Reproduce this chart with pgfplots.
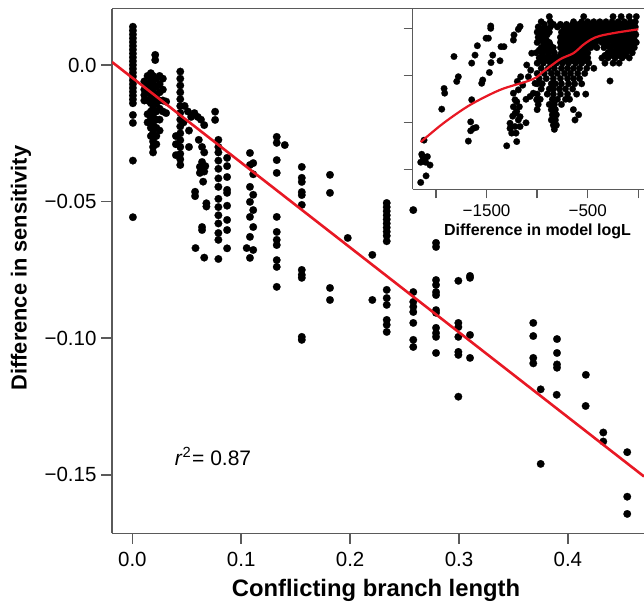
\documentclass[border=0pt]{standalone}
\usepackage{fontspec}
\setmainfont{Liberation Sans}
\usepackage{pgfplots}
\usepackage{pgfplotstable}
\pgfplotsset{compat=1.18}
\definecolor{spine}{RGB}{90,90,90}
\definecolor{fitred}{RGB}{232,24,36}

\pgfplotstableread{
X Y
0.0005 0.0140
0.0005 0.0126
0.0005 0.0112
0.0005 0.0098
0.0005 0.0084
0.0005 0.0070
0.0005 0.0056
0.0005 0.0042
0.0005 0.0028
0.0005 0.0014
0.0005 0.0000
0.0005 -0.0014
0.0005 -0.0028
0.0005 -0.0042
0.0005 -0.0056
0.0005 -0.0070
0.0005 -0.0084
0.0005 -0.0098
0.0005 -0.0112
0.0005 -0.0126
0.0005 -0.0140
0.0005 -0.0183
0.0005 -0.0212
0.0005 -0.0350
0.0005 -0.0557
0.021 0.0037
0.021 0.0018
0.011 -0.006
0.011 -0.009
0.011 -0.011
0.011 -0.013
0.014 -0.004
0.014 -0.007
0.014 -0.010
0.014 -0.013
0.014 -0.018
0.014 -0.021
0.017 -0.003
0.017 -0.005
0.017 -0.008
0.017 -0.011
0.017 -0.014
0.017 -0.017
0.017 -0.020
0.017 -0.023
0.017 -0.026
0.019 -0.004
0.019 -0.007
0.019 -0.010
0.019 -0.013
0.019 -0.016
0.019 -0.019
0.019 -0.022
0.019 -0.025
0.019 -0.028
0.019 -0.030
0.019 -0.032
0.022 -0.005
0.022 -0.008
0.022 -0.011
0.022 -0.014
0.022 -0.017
0.022 -0.020
0.022 -0.023
0.022 -0.026
0.022 -0.029
0.025 -0.004
0.025 -0.007
0.025 -0.010
0.025 -0.013
0.025 -0.016
0.025 -0.020
0.025 -0.024
0.028 -0.005
0.028 -0.009
0.028 -0.013
0.028 -0.017
0.031 -0.0134
0.031 -0.0176
0.044 -0.0024
0.044 -0.0050
0.044 -0.0075
0.044 -0.0100
0.044 -0.0125
0.044 -0.0150
0.044 -0.0175
0.044 -0.0200
0.044 -0.0225
0.044 -0.0250
0.044 -0.0275
0.044 -0.0300
0.044 -0.0325
0.044 -0.0345
0.044 -0.0366
0.040 -0.026
0.040 -0.029
0.040 -0.033
0.048 -0.015
0.051 -0.017
0.054 -0.019
0.052 -0.024
0.052 -0.030
0.047 -0.021
0.057 -0.0176
0.060 -0.019
0.063 -0.020
0.066 -0.022
0.061 -0.0274
0.064 -0.030
0.066 -0.032
0.064 -0.0355
0.067 -0.037
0.066 -0.039
0.062 -0.0373
0.062 -0.0395
0.065 -0.0427
0.0576 -0.0464
0.0576 -0.048
0.068 -0.0506
0.068 -0.0518
0.064 -0.0593
0.064 -0.0604
0.058 -0.067
0.066 -0.0705
0.076 -0.0171
0.076 -0.0201
0.079 -0.0274
0.079 -0.0300
0.079 -0.0320
0.079 -0.0350
0.079 -0.0380
0.079 -0.0415
0.079 -0.0446
0.079 -0.0490
0.079 -0.0520
0.079 -0.0550
0.079 -0.0580
0.079 -0.0615
0.079 -0.0640
0.079 -0.0710
0.087 -0.034
0.087 -0.037
0.087 -0.041
0.087 -0.0457
0.087 -0.0468
0.087 -0.0515
0.087 -0.0567
0.087 -0.0604
0.087 -0.0671
0.108 -0.0322
0.111 -0.0359
0.108 -0.0366
0.111 -0.0400
0.108 -0.0446
0.111 -0.0475
0.108 -0.0501
0.111 -0.0531
0.108 -0.0556
0.111 -0.0593
0.108 -0.0629
0.105 -0.0670
0.111 -0.0677
0.108 -0.0706
0.1326 -0.0263
0.1326 -0.0285
0.140 -0.0293
0.1326 -0.0348
0.1326 -0.0395
0.1326 -0.0556
0.1326 -0.0611
0.1326 -0.0640
0.1326 -0.0659
0.1326 -0.0714
0.1326 -0.0739
0.1326 -0.0812
0.1556 -0.0373
0.1556 -0.0413
0.1556 -0.0428
0.1556 -0.0465
0.1556 -0.0476
0.1556 -0.0512
0.1556 -0.0750
0.1556 -0.0768
0.1556 -0.0779
0.1556 -0.0995
0.1556 -0.1006
0.1815 -0.0402
0.1815 -0.0468
0.1815 -0.0816
0.1815 -0.0860
0.1978 -0.0633
0.2204 -0.0695
0.2204 -0.0860
0.2336 -0.0505
0.2336 -0.0520
0.2336 -0.0535
0.2336 -0.0550
0.2336 -0.0565
0.2336 -0.0580
0.2336 -0.0595
0.2336 -0.0610
0.2336 -0.0625
0.2336 -0.0645
0.2336 -0.0823
0.2336 -0.0853
0.2336 -0.0878
0.2336 -0.0933
0.2336 -0.0951
0.2336 -0.0977
0.258 -0.0531
0.258 -0.0831
0.258 -0.0867
0.258 -0.0885
0.258 -0.0904
0.258 -0.0944
0.258 -0.1006
0.258 -0.1032
0.2789 -0.0651
0.2789 -0.0666
0.2789 -0.0787
0.2789 -0.0805
0.2789 -0.0831
0.2789 -0.0842
0.2789 -0.0897
0.2789 -0.0907
0.2789 -0.0962
0.2789 -0.0981
0.2789 -0.0995
0.2789 -0.1054
0.2994 -0.0790
0.2994 -0.0944
0.2994 -0.0959
0.2994 -0.0995
0.2994 -0.1050
0.2994 -0.1061
0.2994 -0.1214
0.3101 -0.0772
0.3101 -0.0779
0.3101 -0.0988
0.3101 -0.1072
0.3682 -0.0944
0.3682 -0.0992
0.3682 -0.1072
0.3682 -0.1092
0.3750 -0.1187
0.3750 -0.1460
0.3900 -0.1003
0.3900 -0.1054
0.3900 -0.1096
0.3900 -0.1108
0.3897 -0.1207
0.4165 -0.1134
0.4163 -0.1248
0.4325 -0.1345
0.4325 -0.1378
0.4545 -0.1417
0.4545 -0.1580
0.4545 -0.1643
}\maindata

\pgfplotstableread{
X Y
-2151 -0.28
-2098 -0.14
-2141 0.32
-2118 0.21
-2085 0.27
-2059 0.09
-2151 0.15
-2102 0.15
-2131 0.27
-2118 0.62
-1943 1.28
-1920 1.72
-1914 1.62
-1822 2.40
-1795 1.87
-1779 1.97
-1680 0.60
-1657 1.01
-1657 0.82
-1647 1.48
-1647 2.26
-1631 0.87
-1614 2.43
-1604 0.89
-1591 2.63
-1548 1.83
-1538 1.90
-1505 2.79
-1482 2.79
-1472 2.06
-1459 3.05
-1459 3.00
-1456 2.27
-1439 2.43
-1367 2.31
-1357 2.61
-1328 2.61
-1301 0.50
-1202 0.59
-1186 2.98
-1169 3.04
-1229 2.86
-1235 2.75
-1110 0.99
-1268 0.87
-1252 0.77
-1268 0.98
-1242 1.13
-1219 1.19
-1235 1.33
-1202 1.44
-1219 1.48
-1186 1.05
-1202 1.23
-1169 1.12
-1176 1.33
-1235 1.62
-1186 1.69
-1196 1.87
-1163 1.97
-1209 0.77
-1219 0.91
-1169 0.91
-1143 1.79
-1103 2.22
-1087 1.97
-1110 1.49
-1070 1.55
-1054 2.47
-1021 1.83
-1005 1.48
-1038 1.62
-1064 2.11
-880 3.25
-540 3.25
-250 3.25
-170 3.25
-90 3.25
-20 3.25
-960 3.14
-870 3.14
-640 3.14
-560 3.14
-500 3.14
-440 3.14
-380 3.14
-320 3.14
-260 3.14
-200 3.14
-140 3.14
-80 3.14
-30 3.14
-990 3.03
-930 3.03
-870 3.03
-800 3.03
-740 3.03
-680 3.03
-620 3.03
-560 3.03
-500 3.03
-440 3.03
-380 3.03
-320 3.03
-260 3.03
-200 3.03
-140 3.03
-80 3.03
-30 3.03
-1000 2.92
-940 2.92
-880 2.92
-760 2.92
-700 2.92
-640 2.92
-580 2.92
-520 2.92
-460 2.92
-400 2.92
-340 2.92
-280 2.92
-220 2.92
-160 2.92
-100 2.92
-40 2.92
-990 2.81
-930 2.81
-770 2.81
-710 2.81
-650 2.81
-590 2.81
-530 2.81
-470 2.81
-410 2.81
-350 2.81
-290 2.81
-230 2.81
-170 2.81
-110 2.81
-50 2.81
-1000 2.70
-940 2.70
-880 2.70
-770 2.70
-720 2.70
-660 2.70
-600 2.70
-540 2.70
-480 2.70
-420 2.70
-360 2.70
-300 2.70
-240 2.70
-180 2.70
-120 2.70
-60 2.70
-20 2.70
-960 2.59
-900 2.59
-840 2.59
-770 2.59
-710 2.59
-650 2.59
-580 2.59
-520 2.59
-470 2.59
-410 2.59
-340 2.59
-280 2.59
-220 2.59
-160 2.59
-100 2.59
-40 2.59
-1010 2.48
-950 2.48
-890 2.48
-830 2.48
-760 2.48
-700 2.48
-640 2.48
-560 2.48
-500 2.48
-300 2.48
-240 2.48
-180 2.48
-120 2.48
-60 2.48
-980 2.37
-920 2.37
-860 2.37
-800 2.37
-740 2.37
-680 2.37
-620 2.37
-560 2.37
-500 2.37
-360 2.37
-300 2.37
-230 2.37
-160 2.37
-90 2.37
-1000 2.26
-940 2.26
-870 2.26
-810 2.26
-750 2.26
-690 2.26
-620 2.26
-560 2.26
-490 2.26
-330 2.26
-250 2.26
-190 2.26
-960 2.15
-890 2.15
-830 2.15
-760 2.15
-700 2.15
-640 2.15
-580 2.15
-510 2.15
-440 2.15
-1000 2.04
-930 2.04
-860 2.04
-800 2.04
-730 2.04
-670 2.04
-600 2.04
-530 2.04
-980 1.93
-910 1.93
-840 1.93
-770 1.93
-700 1.93
-640 1.93
-580 1.93
-280 1.88
-1000 1.82
-950 1.82
-860 1.82
-820 1.82
-760 1.82
-690 1.82
-630 1.82
-560 1.82
-960 1.71
-880 1.71
-840 1.71
-780 1.71
-720 1.71
-650 1.71
-1000 1.60
-900 1.60
-840 1.60
-770 1.60
-700 1.60
-610 1.60
-520 1.60
-970 1.49
-850 1.49
-800 1.49
-720 1.49
-680 1.49
-990 1.38
-880 1.38
-830 1.38
-760 1.38
-1000 1.27
-860 1.27
-820 1.27
-642 1.27
-850 1.16
-810 1.16
-590 1.16
-860 1.05
-820 1.05
-626 1.05
-840 0.94
-810 0.94
-830 0.85
-930 3.085
-840 3.085
-770 3.085
-710 3.085
-650 3.085
-590 3.085
-530 3.085
-470 3.085
-410 3.085
-350 3.085
-290 3.085
-230 3.085
-170 3.085
-110 3.085
-55 3.085
-960 2.975
-900 2.975
-710 2.975
-650 2.975
-590 2.975
-530 2.975
-470 2.975
-410 2.975
-350 2.975
-290 2.975
-230 2.975
-170 2.975
-110 2.975
-55 2.975
-960 2.865
-900 2.865
-740 2.865
-680 2.865
-620 2.865
-560 2.865
-500 2.865
-440 2.865
-380 2.865
-320 2.865
-260 2.865
-200 2.865
-140 2.865
-80 2.865
-25 2.865
-970 2.755
-910 2.755
-740 2.755
-690 2.755
-630 2.755
-570 2.755
-510 2.755
-450 2.755
-390 2.755
-330 2.755
-270 2.755
-210 2.755
-150 2.755
-90 2.755
-40 2.755
-930 2.645
-870 2.645
-740 2.645
-680 2.645
-620 2.645
-550 2.645
-500 2.645
-440 2.645
-310 2.645
-250 2.645
-190 2.645
-130 2.645
-70 2.645
-980 2.535
-920 2.535
-860 2.535
-730 2.535
-670 2.535
-610 2.535
-530 2.535
-270 2.535
-210 2.535
-150 2.535
-90 2.535
-950 2.425
-890 2.425
-830 2.425
-770 2.425
-710 2.425
-650 2.425
-590 2.425
-530 2.425
-330 2.425
-270 2.425
-200 2.425
-130 2.425
-970 2.315
-900 2.315
-840 2.315
-780 2.315
-720 2.315
-650 2.315
-590 2.315
-520 2.315
}\insetdata

\begin{document}
\begin{tikzpicture}
\begin{axis}[
  scale only axis, width=532pt, height=524.6pt,
  at={(112pt,-533.3pt)}, anchor=south west,
  xmin=-0.0187, xmax=0.4699, ymin=-0.1714, ymax=0.0206,
  clip marker paths=true,
  axis x line*=box, axis y line*=left,
  xtick pos=bottom, ytick pos=left,
  tick align=outside, major tick length=10.5pt,
  tick style={line width=1.5pt, spine},
  axis line style={line width=1.5pt, spine},
  xtick={0,0.1,0.2,0.3,0.4}, xticklabels={0.0,0.1,0.2,0.3,0.4},
  ytick={-0.15,-0.1,-0.05,0}, yticklabels={−0.15,−0.10,−0.05,0.0},
  scaled ticks=false,
  tick label style={font=\fontsize{20.5}{24}\selectfont, inner sep=0pt},
  xticklabel style={anchor=north, yshift=-7.9pt},
  yticklabel style={anchor=east, xshift=-4.8pt},
]
\addplot[only marks, mark=*, mark size=3.8pt, mark options={fill=black, draw=black, line width=0.2pt}] table[x=X, y=Y] {\maindata};
\addplot[fitred, line width=2.6pt] coordinates {(-0.0187,0.0011) (0.4699,-0.1506)};
\node[anchor=base west, inner sep=0pt, font=\fontsize{21}{24}\selectfont] at (axis cs:0.0388,-0.1464) {\textit{r}\textsuperscript{2}\kern1pt= 0.87};
\end{axis}

\begin{axis}[
  scale only axis, width=231.3pt, height=180.6pt,
  at={(412.7pt,-189.3pt)}, anchor=south west,
  xmin=-2230, xmax=56, ymin=-0.426, ymax=3.418,
  clip marker paths=true,
  axis background/.style={fill=white},
  axis x line*=box, axis y line*=left,
  xtick pos=bottom, ytick pos=left,
  tick align=outside, major tick length=9pt,
  tick style={line width=1.4pt, spine},
  axis line style={line width=1.4pt, spine},
  xtick={-2000,-1500,-1000,-500,0}, xticklabels={,−1500,,−500,},
  ytick={0,1,2,3}, yticklabels={},
  scaled ticks=false,
  tick label style={font=\fontsize{17}{20}\selectfont, inner sep=0pt},
  xticklabel style={anchor=north, yshift=-6pt},
]
\addplot[only marks, mark=*, mark size=3.3pt, mark options={fill=black, draw=black, line width=0.2pt}] table[x=X, y=Y] {\insetdata};
\addplot[fitred, line width=2.2pt, smooth] coordinates {(-2151,0.58) (-1927,0.98) (-1663,1.37) (-1367,1.69) (-1103,1.87) (-1005,1.96) (-939,2.08) (-774,2.34) (-642,2.47) (-544,2.65) (-461,2.77) (-379,2.84) (-214,2.91) (0,2.98)};
\end{axis}

\node[anchor=base, inner sep=0pt, font=\bfseries\fontsize{23.8}{28}\selectfont] at (376pt,-596pt) {Conflicting branch length};
\node[anchor=base, rotate=90, inner sep=0pt, font=\bfseries\fontsize{21.8}{26}\selectfont] at (26.7pt,-268pt) {Difference in sensitivity};
\node[anchor=base, inner sep=0pt, font=\bfseries\fontsize{16}{19}\selectfont] at (537.5pt,-235pt) {Difference in model logL};

\pgfresetboundingbox
\path[use as bounding box] (0pt,0pt) rectangle (644pt,-603pt);
\end{tikzpicture}
\end{document}
